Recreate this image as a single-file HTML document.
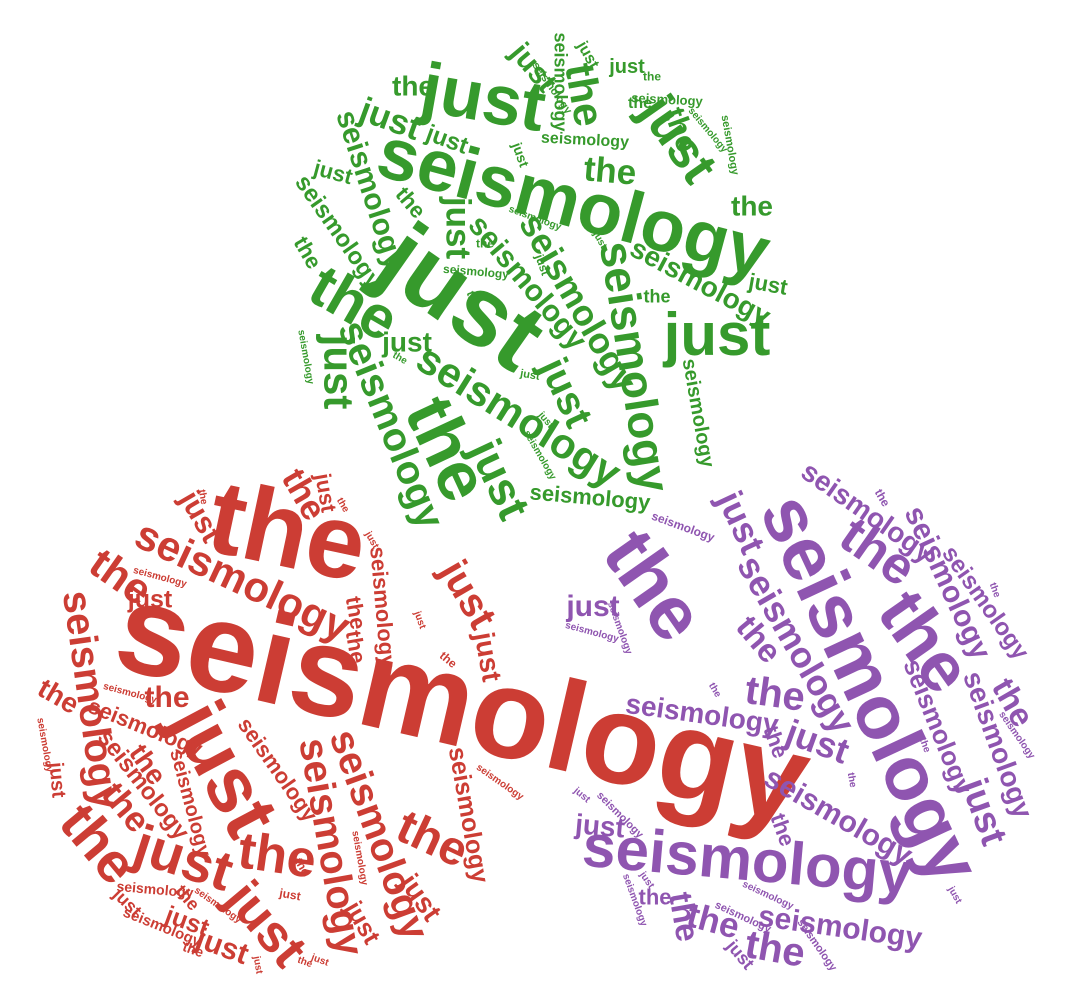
<!DOCTYPE html>
<html><head><meta charset="utf-8"><style>
html,body{margin:0;padding:0;background:#fff;}
svg{display:block;}
text{font-family:"Liberation Sans",sans-serif;font-weight:bold;}
</style></head><body>
<svg id="cloud" width="1074" height="1005" viewBox="0 0 1074 1005" xmlns="http://www.w3.org/2000/svg"></svg>
<script>
const groupColors = {g:"#369a2c", r:"#cc3d34", p:"#8f55b0"};
const words = [
// green cluster
["g","seismology",573,205,73,15],["g","just",460,300,98,35],["g","just",483,100,70,10],
["g","the",445,450,70,65],["g","the",353,305,60,30],["g","seismology",633,367,46,81],
["g","seismology",518,417,42,32],["g","seismology",390,425,40,68],["g","just",717,337,60,0],
["g","just",677,140,52,55],["g","just",337,372,42,90],["g","seismology",590,498,22,5],
["g","just",498,480,46,65],["g","seismology",577,303,36,60],["g","just",565,393,40,65],
["g","seismology",527,283,30,50],["g","seismology",370,190,30,72],["g","seismology",338,232,24,55],
["g","the",583,95,42,80],["g","seismology",560,82,18,90],["g","just",533,68,30,50],
["g","just",390,120,35,20],["g","just",457,228,35,90],["g","seismology",585,140,16,3],
["g","the",610,172,35,5],["g","the",752,207,28,0],["g","the",680,130,30,70],
["g","seismology",667,100,13,3],["g","seismology",700,283,28,28],["g","just",768,285,22,10],
["g","seismology",698,413,20,80],["g","the",657,297,18,0],["g","just",447,140,24,20],
["g","the",413,87,28,0],["g","just",333,173,22,15],["g","the",410,203,22,50],
["g","just",627,67,20,0],["g","seismology",476,272,12,5],["g","just",407,343,28,0],
["g","the",307,253,22,60],["g","seismology",552,88,11,55],["g","just",588,55,16,60],
["g","the",652,77,12,0],["g","seismology",708,130,10,50],["g","seismology",730,145,11,80],
["g","the",640,103,16,0],["g","just",520,155,14,70],["g","seismology",535,218,10,20],
["g","just",600,240,10,60],["g","the",473,300,12,70],["g","just",542,265,12,70],
["g","seismology",306,357,10,80],["g","the",400,358,10,30],["g","just",546,420,10,50],
["g","the",485,244,12,0],["g","seismology",540,455,10,60],["g","just",530,375,11,10],
// red cluster
["r","seismology",462,708,128,13],["r","the",287,535,105,12],["r","seismology",242,582,42,25],
["r","just",222,770,78,62],["r","just",183,860,56,18],["r","just",265,925,52,50],
["r","the",97,845,56,50],["r","the",277,857,52,8],["r","seismology",330,847,40,80],
["r","seismology",378,835,40,70],["r","the",432,840,48,25],["r","seismology",90,700,40,82],
["r","the",120,578,43,35],["r","seismology",468,815,25,80],["r","just",467,595,40,60],
["r","just",487,657,28,80],["r","seismology",382,607,22,85],["r","the",355,613,22,80],
["r","the",355,647,22,80],["r","the",58,697,28,30],["r","just",150,600,25,0],
["r","the",167,698,30,0],["r","seismology",145,728,22,22],["r","seismology",277,770,22,55],
["r","seismology",190,803,20,75],["r","seismology",143,785,24,52],["r","the",147,765,28,55],
["r","the",125,808,35,50],["r","just",200,517,30,60],["r","the",303,495,35,60],
["r","just",325,493,22,80],["r","just",420,898,28,55],["r","just",362,923,25,60],
["r","just",57,780,20,85],["r","just",222,947,30,20],["r","just",187,922,25,20],
["r","seismology",155,890,14,5],["r","seismology",162,927,15,22],["r","the",187,898,18,50],
["r","just",127,903,18,45],["r","seismology",45,745,10,80],["r","seismology",130,693,10,15],
["r","seismology",160,577,10,15],["r","the",203,497,10,80],["r","the",343,505,10,60],
["r","just",372,540,10,60],["r","the",448,660,12,40],["r","seismology",500,782,10,35],
["r","just",420,620,10,70],["r","seismology",360,858,10,80],["r","the",302,867,12,60],
["r","just",290,895,12,10],["r","the",193,950,14,20],["r","just",258,965,10,80],
["r","the",305,962,10,20],["r","just",320,960,10,20],["r","seismology",218,905,10,35],
// purple cluster
["p","seismology",868,690,76,65],["p","seismology",747,862,60,5],["p","the",652,587,76,55],
["p","the",877,553,52,35],["p","the",923,643,70,55],["p","just",740,523,36,65],
["p","seismology",795,645,36,60],["p","the",758,640,33,50],["p","the",775,695,40,8],
["p","seismology",867,513,28,35],["p","seismology",947,583,30,65],["p","seismology",985,603,24,55],
["p","the",1012,703,33,60],["p","seismology",997,745,28,70],["p","just",983,812,38,70],
["p","seismology",937,727,26,68],["p","seismology",838,817,30,30],["p","just",817,743,36,20],
["p","seismology",702,715,28,8],["p","the",775,742,22,70],["p","the",782,830,22,70],
["p","just",593,607,30,0],["p","just",600,827,28,5],["p","the",655,898,22,0],
["p","the",683,917,33,80],["p","the",713,922,35,15],["p","the",775,950,40,10],
["p","seismology",840,928,30,8],["p","just",740,955,18,50],["p","seismology",683,527,12,20],
["p","seismology",620,628,10,70],["p","seismology",592,632,10,15],["p","the",715,690,10,60],
["p","the",852,780,10,80],["p","the",925,745,10,70],["p","seismology",1017,735,10,55],
["p","the",995,590,10,70],["p","the",882,498,12,60],["p","just",582,795,10,40],
["p","seismology",620,815,11,45],["p","just",647,880,10,55],["p","seismology",635,900,10,70],
["p","seismology",768,895,10,25],["p","seismology",743,917,11,25],["p","seismology",817,945,11,55],
["p","just",955,895,10,60]
];
const svg = document.getElementById('cloud');
const NS = "http://www.w3.org/2000/svg";
for (const w of words) {
  const t = document.createElementNS(NS, 'text');
  
  
  t.setAttribute('x', w[2]);
  t.setAttribute('y', w[3]);
  t.setAttribute('dy', '0.3em');
  t.setAttribute('text-anchor', 'middle');
  t.setAttribute('font-size', w[4]);
  t.setAttribute('fill', groupColors[w[0]]);
  t.setAttribute('transform', 'rotate(' + w[5] + ' ' + w[2] + ' ' + w[3] + ')');
  t.textContent = w[1];
  svg.appendChild(t);
}
</script>
</body></html>
